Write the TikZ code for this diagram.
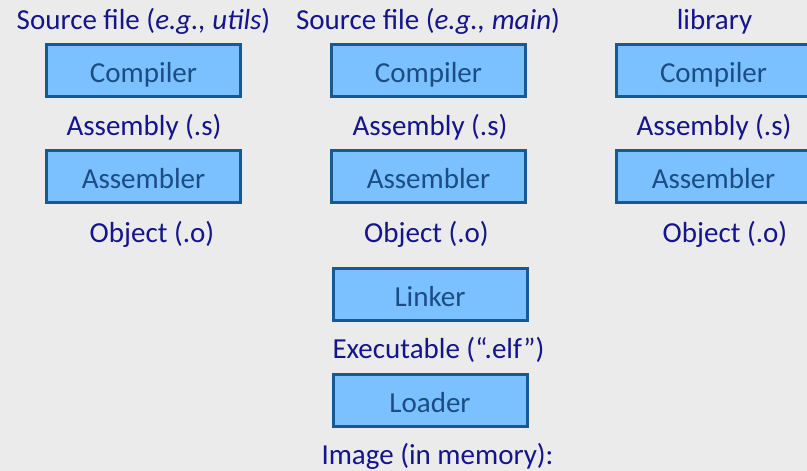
\documentclass[tikz,border=0pt]{standalone}
\usepackage{fontspec}
\setmainfont{Carlito}
\definecolor{bgcol}{HTML}{EBEBEB}
\definecolor{labelcol}{HTML}{14148C}
\definecolor{boxtext}{HTML}{1C4C84}
\definecolor{boxfill}{HTML}{7BC0FF}
\definecolor{boxline}{HTML}{155A94}
\tikzset{
  stage/.style={draw=boxline, line width=3pt, fill=boxfill, text=boxtext,
    minimum width=194pt, minimum height=52pt, inner sep=0pt,
    text height=26pt, text depth=1.5pt,
    font=\fontsize{29}{34}\selectfont},
  artifact/.style={text=labelcol, anchor=base, inner sep=0pt,
    font=\fontsize{29}{34}\selectfont}
}
\begin{document}
\begin{tikzpicture}[x=1pt, y=-1pt]
  \useasboundingbox (0,0) rectangle (807,471);
  \clip (0,0) rectangle (807,471);
  \fill[bgcol] (0,0) rectangle (807,471);

  % inputs of the three build columns
  \node[artifact] (src1) at (143.5,29) {Source file (\textit{e.g., utils})};
  \node[artifact] (src2) at (428,29) {Source file (\textit{e.g., main})};
  \node[artifact] (src3) at (714.5,29) {library};

  % compile step
  \node[stage] (comp1) at (143.5,70.5) {Compiler};
  \node[stage] (comp2) at (428.5,70.5) {Compiler};
  \node[stage] (comp3) at (713.5,70.5) {Compiler};

  \node[artifact] (asm1) at (144,135) {Assembly (.s)};
  \node[artifact] (asm2) at (430,135) {Assembly (.s)};
  \node[artifact] (asm3) at (714,135) {Assembly (.s)};

  % assemble step
  \node[stage] (as1) at (143.5,176.5) {Assembler};
  \node[stage] (as2) at (428.5,176.5) {Assembler};
  \node[stage] (as3) at (713.5,176.5) {Assembler};

  \node[artifact] (obj1) at (152,242) {Object (.o)};
  \node[artifact] (obj2) at (426.5,242) {Object (.o)};
  \node[artifact] (obj3) at (725,242) {Object (.o)};

  % link and load
  \node[stage] (link) at (430,294) {Linker};
  \node[artifact] (exe) at (438.5,358) {Executable (“.elf”)};
  \node[stage] (load) at (430,400) {Loader};
  \node[artifact] (img) at (437.5,464) {Image (in memory):};
\end{tikzpicture}
\end{document}
